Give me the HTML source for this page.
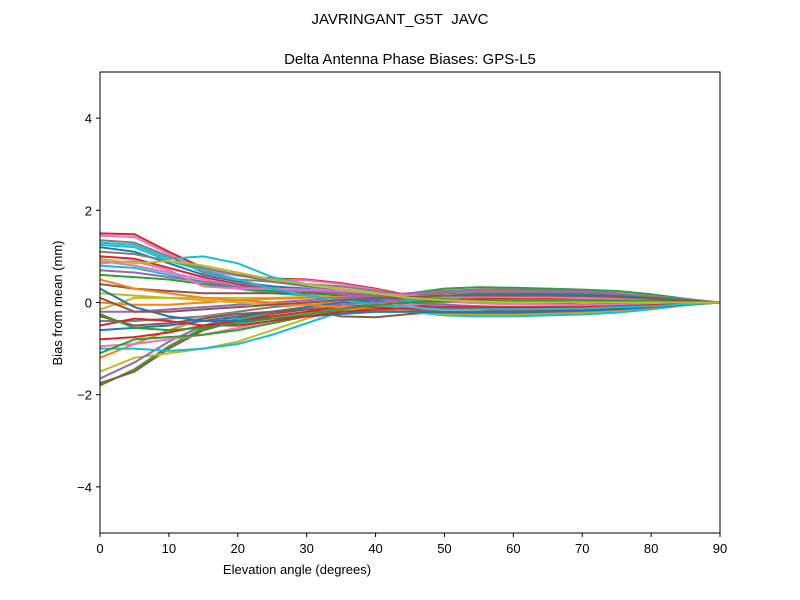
<!DOCTYPE html>
<html><head><meta charset="utf-8"><style>
body{margin:0;background:#fff;}
svg{display:block;font-family:"Liberation Sans",sans-serif;}
</style></head><body>
<svg id="chart" width="800" height="600">
<rect width="800" height="600" fill="#fff"/>
<text x="400" y="24" text-anchor="middle" font-size="15">JAVRINGANT_G5T&#160; JAVC</text>
<text x="410" y="64" text-anchor="middle" font-size="15">Delta Antenna Phase Biases: GPS-L5</text>
<g id="lines"></g>
<rect x="100" y="72" width="620" height="461" fill="none" stroke="#000" stroke-width="1"/>
<g id="xt"></g>
<g id="yt"></g>
<text x="297" y="574" text-anchor="middle" font-size="13">Elevation angle (degrees)</text>
<text transform="translate(62,303) rotate(-90)" text-anchor="middle" font-size="13">Bias from mean (mm)</text>
</svg>
<script>
const elevations=[0,5,10,15,20,25,30,35,40,45,50,55,60,65,70,75,80,85,90];
const xTicks=[0,10,20,30,40,50,60,70,80,90];
const yTicks=[-4,-2,0,2,4];
const s01=[1.5,1.48,1.1,0.75,0.6,0.52,0.5,0.42,0.3,0.15,0.05,0.0,-0.02,-0.03,-0.05,-0.04,-0.03,-0.02,0];
const s02=[1.45,1.42,1.05,0.7,0.58,0.5,0.48,0.4,0.28,0.12,0.02,-0.02,-0.04,-0.05,-0.06,-0.05,-0.04,-0.02,0];
const s03=[1.3,1.25,0.95,1.0,0.85,0.55,0.4,0.3,0.15,0.0,-0.1,-0.12,-0.12,-0.12,-0.11,-0.1,-0.08,-0.04,0];
const s04=[-1.8,-1.45,-0.95,-0.55,-0.35,-0.2,-0.1,-0.05,0.05,0.2,0.3,0.33,0.32,0.3,0.28,0.25,0.18,0.08,0];
const s05=[-1.75,-1.5,-1.0,-0.6,-0.4,-0.25,-0.15,-0.3,-0.32,-0.25,-0.2,-0.2,-0.18,-0.16,-0.14,-0.12,-0.08,-0.04,0];
const s06=[-1.5,-1.2,-1.1,-1.0,-0.85,-0.6,-0.35,-0.15,-0.1,-0.15,-0.25,-0.28,-0.27,-0.25,-0.22,-0.18,-0.12,-0.05,0];
const s07=[-1.2,-0.9,-0.6,-0.35,-0.2,-0.1,-0.05,0.0,0.1,0.2,0.25,0.28,0.27,0.26,0.24,0.2,0.14,0.06,0];
const s08=[-1.65,-1.3,-0.85,-0.5,-0.3,-0.2,-0.1,-0.05,0.0,0.05,0.1,0.12,0.12,0.1,0.1,0.08,0.06,0.03,0];
const s09=[1.35,1.3,1.0,0.65,0.5,0.45,0.4,0.35,0.25,0.15,0.05,0.02,0.0,0.0,0.0,0.0,0.0,0.0,0];
const s10=[1.2,1.1,0.85,0.6,0.45,0.35,0.3,0.2,0.15,0.05,-0.05,-0.1,-0.1,-0.1,-0.1,-0.08,-0.06,-0.03,0];
const s11=[1.0,0.95,0.75,0.55,0.4,0.3,0.25,0.15,0.05,-0.05,-0.12,-0.15,-0.15,-0.14,-0.13,-0.12,-0.1,-0.05,0];
const s12=[0.9,0.8,0.65,0.5,0.35,0.25,0.15,0.1,0.05,0.0,-0.05,-0.08,-0.1,-0.1,-0.1,-0.08,-0.06,-0.03,0];
const s13=[0.8,0.75,0.6,0.45,0.3,0.2,0.15,0.1,0.05,0.05,0.05,0.05,0.05,0.05,0.05,0.04,0.03,0.02,0];
const s14=[0.6,0.55,0.5,0.4,0.3,0.25,0.2,0.15,0.1,0.1,0.1,0.12,0.12,0.12,0.12,0.1,0.08,0.04,0];
const s15=[0.4,0.3,0.25,0.2,0.2,0.2,0.2,0.2,0.15,0.15,0.15,0.18,0.18,0.18,0.16,0.14,0.1,0.05,0];
const s16=[0.2,0.15,0.1,0.1,0.1,0.1,0.12,0.12,0.12,0.12,0.15,0.18,0.2,0.2,0.18,0.15,0.1,0.05,0];
const s17=[0.0,-0.05,-0.05,0.0,0.05,0.08,0.1,0.12,0.15,0.2,0.22,0.25,0.25,0.24,0.22,0.18,0.12,0.05,0];
const s18=[-0.2,-0.2,-0.15,-0.1,-0.05,0.0,0.05,0.1,0.15,0.2,0.25,0.28,0.28,0.27,0.25,0.2,0.13,0.06,0];
const s19=[-0.4,-0.4,-0.35,-0.3,-0.2,-0.1,0.0,0.05,0.1,0.15,0.2,0.22,0.22,0.22,0.2,0.17,0.12,0.05,0];
const s20=[-0.6,-0.55,-0.5,-0.4,-0.3,-0.2,-0.1,0.0,0.05,0.1,0.15,0.18,0.18,0.18,0.17,0.14,0.1,0.05,0];
const s21=[-0.8,-0.75,-0.65,-0.5,-0.4,-0.3,-0.2,-0.1,-0.05,0.0,0.05,0.08,0.1,0.1,0.1,0.08,0.06,0.03,0];
const s22=[-0.95,-0.9,-0.8,-0.7,-0.55,-0.4,-0.25,-0.15,-0.1,-0.05,0.0,0.02,0.02,0.02,0.02,0.02,0.01,0.0,0];
const s23=[-1.0,-1.0,-1.05,-1.0,-0.9,-0.7,-0.45,-0.2,-0.15,-0.2,-0.28,-0.3,-0.3,-0.28,-0.26,-0.22,-0.15,-0.06,0];
const s24=[-1.1,-0.8,-0.75,-0.7,-0.6,-0.45,-0.3,-0.2,-0.2,-0.2,-0.22,-0.22,-0.22,-0.2,-0.18,-0.15,-0.1,-0.04,0];
const s25=[-0.3,-0.5,-0.45,-0.35,-0.25,-0.2,-0.15,-0.1,-0.1,-0.15,-0.2,-0.22,-0.22,-0.2,-0.18,-0.15,-0.1,-0.05,0];
const s26=[-0.15,0.1,0.1,0.05,0.0,-0.05,-0.05,-0.1,-0.15,-0.2,-0.25,-0.25,-0.25,-0.23,-0.2,-0.17,-0.12,-0.05,0];
const s27=[0.5,0.3,0.2,0.1,0.05,0.0,-0.05,-0.1,-0.15,-0.2,-0.22,-0.24,-0.24,-0.22,-0.2,-0.16,-0.12,-0.05,0];
const s28=[0.7,0.65,0.55,0.45,0.35,0.3,0.25,0.2,0.1,0.0,-0.05,-0.08,-0.1,-0.1,-0.1,-0.08,-0.06,-0.03,0];
const s29=[1.1,1.05,0.9,0.75,0.6,0.45,0.35,0.25,0.15,0.08,0.05,0.05,0.05,0.05,0.05,0.04,0.03,0.02,0];
const s30=[0.3,-0.1,-0.3,-0.4,-0.4,-0.35,-0.3,-0.25,-0.2,-0.2,-0.22,-0.22,-0.22,-0.2,-0.18,-0.15,-0.1,-0.05,0];
const s31=[-0.5,-0.35,-0.4,-0.5,-0.5,-0.4,-0.3,-0.2,-0.15,-0.12,-0.1,-0.1,-0.1,-0.1,-0.1,-0.08,-0.06,-0.03,0];
const s32=[0.85,0.9,0.7,0.35,0.3,0.3,0.28,0.25,0.2,0.15,0.12,0.12,0.12,0.12,0.1,0.08,0.06,0.03,0];
const s33=[1.25,1.2,0.9,0.7,0.5,0.3,0.15,0.05,-0.05,-0.1,-0.15,-0.15,-0.15,-0.14,-0.13,-0.1,-0.08,-0.04,0];
const s34=[-0.25,-0.55,-0.6,-0.55,-0.45,-0.35,-0.25,-0.15,-0.05,0.0,0.02,0.05,0.05,0.05,0.05,0.04,0.03,0.02,0];
const s35=[0.1,-0.2,-0.2,-0.15,-0.1,-0.05,0.0,0.05,0.1,0.12,0.15,0.15,0.15,0.15,0.14,0.12,0.08,0.04,0];
const s36=[0.95,0.85,0.9,0.8,0.65,0.5,0.4,0.3,0.2,0.1,0.05,0.02,0.0,0.0,0.0,0.0,0.0,0.0,0];
const series=[s01,s02,s03,s04,s05,s06,s07,s08,s09,s10,s11,s12,s13,s14,s15,s16,s17,s18,s19,s20,s21,s22,s23,s24,s25,s26,s27,s28,s29,s30,s31,s32,s33,s34,s35,s36];
const colors=['#1f77b4','#ff7f0e','#2ca02c','#d62728','#9467bd','#8c564b','#e377c2','#7f7f7f','#bcbd22','#17becf'];
const NS='http://www.w3.org/2000/svg';
const X=v=>100+v/90*620, Y=v=>302.5-v*46.1;
const lg=document.getElementById('lines');
series.forEach((s,i)=>{
 const p=document.createElementNS(NS,'polyline');
 p.setAttribute('points',s.map((v,j)=>X(elevations[j])+','+Y(v)).join(' '));
 p.setAttribute('fill','none');p.setAttribute('stroke',colors[(i*3+3)%10]);p.setAttribute('stroke-width','2');
 
 
 lg.appendChild(p);
});
const xt=document.getElementById('xt');
xTicks.forEach(t=>{
 const l=document.createElementNS(NS,'line');l.setAttribute('x1',X(t));l.setAttribute('x2',X(t));l.setAttribute('y1',533);l.setAttribute('y2',537);l.setAttribute('stroke','#000');
 
 
 xt.appendChild(l);
 const tx=document.createElementNS(NS,'text');tx.setAttribute('x',X(t));tx.setAttribute('y',553);tx.setAttribute('text-anchor','middle');tx.setAttribute('font-size','13');tx.textContent=t;
 
 
 xt.appendChild(tx);
});
const yt=document.getElementById('yt');
yTicks.forEach(t=>{
 const l=document.createElementNS(NS,'line');l.setAttribute('x1',96);l.setAttribute('x2',100);l.setAttribute('y1',Y(t));l.setAttribute('y2',Y(t));l.setAttribute('stroke','#000');
 
 
 yt.appendChild(l);
 const tx=document.createElementNS(NS,'text');tx.setAttribute('x',92);tx.setAttribute('y',Y(t)+5);tx.setAttribute('text-anchor','end');tx.setAttribute('font-size','13');tx.textContent=(t<0?'\u2212'+(-t):t);
 
 
 yt.appendChild(tx);
});
</script>
</body></html>
